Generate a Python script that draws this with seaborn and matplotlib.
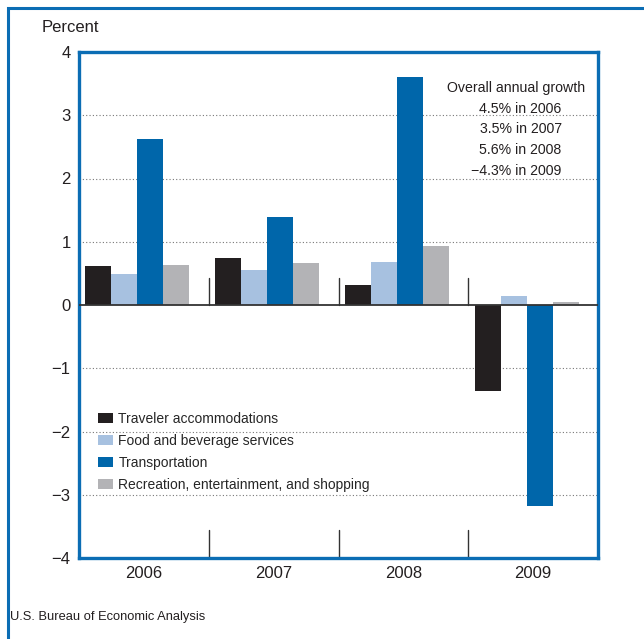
import pandas as pd
import matplotlib.pyplot as plt
import seaborn as sns
from matplotlib.patches import Rectangle

# values (percent contribution to growth)
years = ['2006', '2007', '2008', '2009']
series = ['Traveler accommodations', 'Food and beverage services',
          'Transportation', 'Recreation, entertainment, and shopping']
traveler = [0.62, 0.74, 0.32, -1.36]
food = [0.49, 0.55, 0.68, 0.14]
transport = [2.63, 1.39, 3.60, -3.18]
recreation = [0.63, 0.67, 0.93, 0.04]
growth_notes = ['Overall annual growth', '4.5% in 2006', '3.5% in 2007',
                '5.6% in 2008', '\u22124.3% in 2009']

colors = ['#231f20', '#a7c1e0', '#0066aa', '#b3b3b6']
blue = '#0b6db4'

rows = []
for name, vals in zip(series, [traveler, food, transport, recreation]):
    for y, v in zip(years, vals):
        rows.append({'Year': y, 'Series': name, 'Value': v})
df = pd.DataFrame(rows)

sns.set_theme(style='white')
plt.rcParams['font.family'] = ['Liberation Sans', 'DejaVu Sans']

fig = plt.figure(figsize=(6.44, 6.39), dpi=100)
ax = fig.add_axes([79 / 644, 1 - 558 / 639, 519 / 644, 506 / 639])

sns.barplot(data=df, x='Year', y='Value', hue='Series', hue_order=series,
            palette=colors, width=0.8, saturation=1, linewidth=0,
            ax=ax, zorder=3)

ax.set_xlim(-0.45, 3.55)
ax.set_ylim(-4, 4)
ax.set_yticks(range(-4, 5))
ax.set_yticklabels([str(v).replace('-', '\u2212') for v in range(-4, 5)])
ax.set_xticks([i + 0.05 for i in range(4)])
ax.set_xticklabels(years)
ax.set_xlabel('')
ax.set_ylabel('')
ax.tick_params(axis='both', length=0, labelsize=12, colors='#231f20', pad=6)

# dotted gridlines
for g in [-3, -2, -1, 1, 2, 3]:
    ax.axhline(g, color='#777777', lw=0.8, ls=(0, (1, 2)), zorder=1)
ax.axhline(0, color='#333333', lw=1.3, zorder=4)

# group separators
for s in [0.55, 1.55, 2.55]:
    ax.plot([s, s], [0, 0.42], color='#333333', lw=1, zorder=2)
    ax.plot([s, s], [-4, -3.55], color='#333333', lw=1, zorder=2)

for sp in ax.spines.values():
    sp.set_color(blue)
    sp.set_linewidth(2.4)

ax.legend(loc='upper left', bbox_to_anchor=(0.025, 0.3), frameon=False,
          fontsize=10, handlelength=1.1, handleheight=0.8, handletextpad=0.4,
          labelspacing=0.58, borderaxespad=0)

# overall growth notes
ax.text(0.975, 0.928, growth_notes[0], transform=ax.transAxes, ha='right',
        va='center', fontsize=10.2, color='#231f20')
for i, note in enumerate(growth_notes[1:]):
    ax.text(0.93, 0.888 - i * 0.041, note, transform=ax.transAxes,
            ha='right', va='center', fontsize=10.2, color='#231f20')

fig.text(42 / 644, 1 - 28 / 639, 'Percent', fontsize=12, va='center',
         color='#231f20')
fig.text(10 / 644, 1 - 617 / 639, 'U.S. Bureau of Economic Analysis',
         fontsize=9.3, va='center', color='#231f20')

# outer frame
fig.patches.append(Rectangle((8 / 644, -0.05), 1.1, 1 - 8 / 639 + 0.05,
                             transform=fig.transFigure, fill=False,
                             edgecolor=blue, lw=2.2))

fig.savefig('out.png', dpi=100)
